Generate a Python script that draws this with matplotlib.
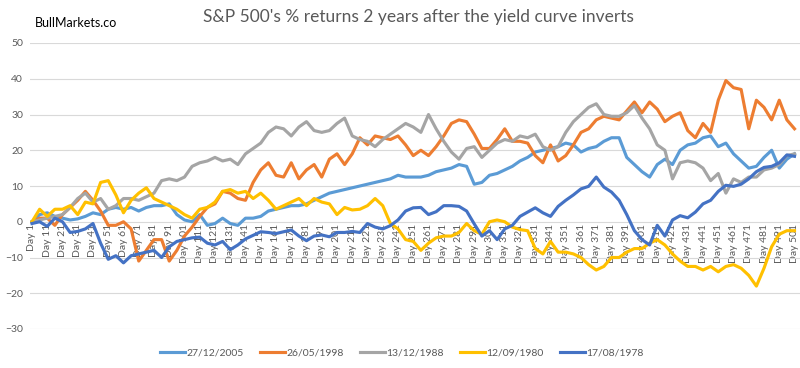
import matplotlib
matplotlib.use("Agg")
import matplotlib.pyplot as plt
import numpy as np

plt.rcParams['font.family'] = ['Lato', 'DejaVu Sans']

# Trading-day index (sampled every 5 days)
days = list(range(1, 502, 5))
tick_days = list(range(1, 502, 10))
tick_labels = [f"Day {d}" for d in tick_days]

series_names = ["27/12/2005", "26/05/1998", "13/12/1988", "12/09/1980", "17/08/1978"]

s2005 = [0, 2, 2.5, 1.5, 1, 0.5, 0.8, 1.5, 2.5, 2, 3.5, 4, 3.5, 4, 3, 4, 4.5, 4.5, 5, 2,
         0.5, 0, 2, -1, -0.5, 1, -0.5, -1, 1, 1, 1.5, 3, 3.5, 4, 4.5, 4.5, 5, 6, 7, 8,
         8.5, 9, 9.5, 10, 10.5, 11, 11.5, 12, 13, 12.5, 12.5, 12.5, 13, 14, 14.5, 15, 16, 15.5, 10.5, 11,
         13, 13.5, 14.5, 15.5, 17, 18, 19.5, 20, 20.5, 21, 22, 21.5, 19.5, 20.5, 21, 22.5, 23.5, 23.5, 18, 16,
         14, 12.5, 16, 17.5, 16, 20, 21.5, 22, 23.5, 24, 21, 22, 19, 17, 15, 15.5, 18, 20, 15, 17.5,
         19]

s1998 = [0, 1, 1, -1, 2, 4, 6, 8.5, 6, 3, -1, -1, 0, -2, -11, -8, -5, -5, -11, -8,
         -4, -1.5, 1.5, 4, 5, 8.5, 8, 6.5, 6, 11, 14.5, 16.5, 13, 12.5, 16.5, 12, 14.5, 16, 12.5, 17.5,
         19, 16, 19, 23.5, 21.5, 24, 23.5, 23, 24, 21.5, 18.5, 20, 18.5, 21, 24, 27.5, 28.5, 28, 24.5, 20.5,
         20.5, 23, 26, 22.5, 22.5, 22, 18.5, 16.5, 21.5, 17, 18.5, 21.5, 25, 26, 28.5, 29.5, 29, 28.5, 31, 33.5,
         30.5, 33.5, 31.5, 28, 29.5, 30.5, 25.5, 23.5, 27.5, 25, 34, 39.5, 37.5, 37, 26, 34, 32, 28.5, 34, 28.5,
         26]

s1988 = [0, 0.5, 1, 1.5, 2, 4, 6.5, 8, 5.5, 6.5, 3.5, 4.5, 6.5, 6.5, 6, 7, 8, 11.5, 12, 11.5,
         12.5, 15.5, 16.5, 17, 18, 17, 17.5, 16, 19, 20.5, 22, 25, 26.5, 26, 24, 26.5, 28, 25.5, 25, 25.5,
         27.5, 29, 24, 23, 22.5, 21, 23, 24.5, 26, 27.5, 26.5, 25, 30, 26, 22.5, 19.5, 17.5, 20.5, 21, 18,
         20, 22, 23, 22.5, 24, 23.5, 24.5, 21, 20, 21, 25, 28, 30, 32, 33, 30, 29.5, 29.5, 30.5, 32.5,
         29, 26, 21.5, 20, 12, 16.5, 17, 16.5, 15, 11.5, 13.5, 8, 12, 11, 12.5, 12.5, 14.5, 15, 16, 18.5,
         19]

s1980 = [0, 3.5, 1.5, 3.5, 3.5, 4.5, 2, 5.5, 5, 11, 11.5, 7.5, 2.5, 6, 8, 9.5, 6.5, 5.5, 4.5, 3.5,
         2, 1, 3.5, 4, 5.5, 8.5, 9, 8, 8.5, 6.5, 8, 6, 3.5, 4.5, 5.5, 6.5, 4.5, 6.5, 5.5, 5,
         2, 4, 3.3, 3.5, 4.5, 6.5, 4.5, -0.5, -2, -5, -5.5, -8, -6, -4.5, -4, -4, -3, -0.5, -2.5, -3.5,
         0, 0.5, 0, -1.5, -2.2, -2.5, -7.5, -9, -5.5, -8.5, -8.5, -9, -10, -12, -13.5, -12.5, -10, -10, -8.5, -7.5,
         -7.5, -6, -5, -6.5, -9, -11, -12.5, -12.5, -13.5, -12.5, -14, -12.5, -12, -13, -15, -18, -13, -7, -3.5, -2.5,
         -2.5]

s1978 = [-0.5, 0, -1.3, 1, 0, -3, -2.7, -2, -0.5, -6, -10.5, -9.5, -11.5, -9.5, -9, -8.5, -8, -10, -7, -5.5,
         -5, -4.5, -4.3, -6, -6.5, -5.5, -7.8, -6.5, -4.8, -3.8, -2.8, -3, -3.3, -2.8, -2.3, -4, -5.3, -4, -3.7, -4.2,
         -3, -3, -2.7, -3, -0.5, -1.5, -2, -1.1, 0.5, 3, 3.9, 4, 2, 2.8, 4.5, 4.5, 4.3, 3, -0.6, -4,
         -2.5, -5, -2, -1, 1.5, 2.7, 3.9, 2.5, 1.5, 4.3, 6, 7.5, 9.2, 9.9, 12.5, 9.7, 8.3, 6, 2, -2.5,
         -5, -6.5, -1, -4, 0.5, 1.7, 1.1, 2.7, 5, 6, 8.5, 10.2, 9.9, 10.5, 12, 14, 15.2, 15.5, 16.5, 18.7,
         18.3]

colors = ["#5B9BD5", "#ED7D31", "#A5A5A5", "#FFC000", "#4472C4"]
all_series = [s2005, s1998, s1988, s1980, s1978]

fig = plt.figure(figsize=(8, 3.68), dpi=100)
ax = fig.add_axes([30 / 800, 1 - 329 / 368, 770 / 800, (329 - 43) / 368])

for name, vals, c in zip(series_names, all_series, colors):
    assert len(vals) == len(days), (name, len(vals))
    ax.plot(days, vals, color=c, lw=2.25, label=name, solid_joinstyle='round')

ax.set_ylim(-30, 50)
ax.set_xlim(-0.3, 504.6)
ax.set_yticks(range(-30, 51, 10))
ax.grid(axis='y', color='#D9D9D9', lw=0.8)
ax.set_axisbelow(True)
for s in ['top', 'right', 'left']:
    ax.spines[s].set_visible(False)
ax.spines['bottom'].set_position(('data', 0))
ax.spines['bottom'].set_color('none')

ax.set_xticks(tick_days)
ax.set_xticklabels(tick_labels, rotation=90, fontsize=7.5, color='#595959')
ax.tick_params(axis='x', length=0, pad=1.5)
ax.tick_params(axis='y', length=0, pad=5, labelsize=7.5, labelcolor='#595959')

fig.text(418 / 800, 1 - 17 / 368, "S&P 500's % returns 2 years after the yield curve inverts",
         ha='center', va='center', fontsize=12.5, color='#595959')
fig.text(35 / 800, 1 - 23 / 368, "BullMarkets.co", ha='left', va='center', fontsize=9, color='black')

fig.legend(loc='center', bbox_to_anchor=(402 / 800, 1 - 353 / 368), ncol=5, frameon=False,
           fontsize=7.5, handlelength=2.4, handletextpad=0.1, columnspacing=1.6,
           labelcolor='#595959')

fig.savefig("out.png", dpi=100)
